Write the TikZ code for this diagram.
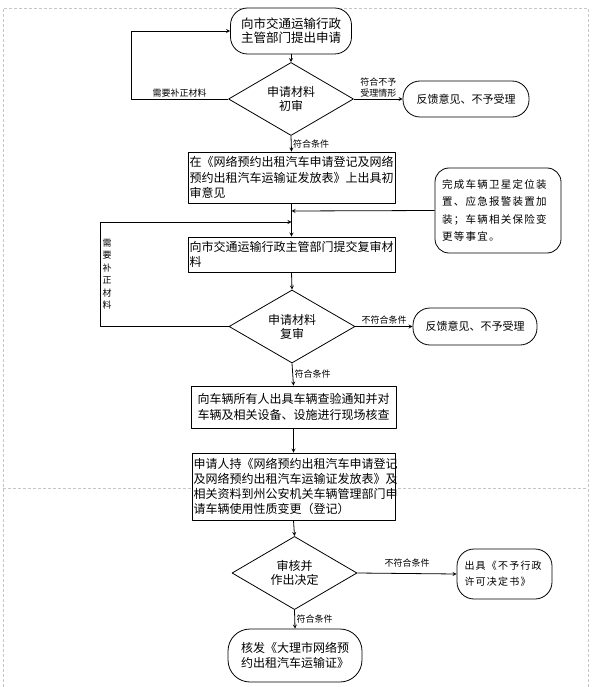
\documentclass[tikz,border=0pt]{standalone}
\usepackage{fontspec}
\setmainfont{Noto Sans CJK SC}
\newfontfamily\notefont[LetterSpace=12]{Noto Sans CJK SC}
\usetikzlibrary{shapes.geometric}

\begin{document}
\begin{tikzpicture}[x=1pt, y=-1pt, line join=round, >=stealth,
  font=\fontsize{12}{15.5}\selectfont,
  box/.style={draw, fill=white, line width=0.8pt, inner sep=1.5pt, align=left},
  term/.style={draw, fill=white, line width=0.8pt, rounded corners=17pt, align=center},
  check/.style={draw, fill=white, diamond, line width=0.8pt, inner sep=0pt, align=center, font=\fontsize{12}{14}\selectfont},
  lbl/.style={font=\fontsize{9}{11}\selectfont, inner sep=1.5pt, align=left},
  flow/.style={->, line width=0.8pt}]
\useasboundingbox (0,0) rectangle (592,687);

% page frame
\draw[gray!45, dash pattern=on 3pt off 2pt] (3,687) -- (3,8) -- (588,8) -- (588,687);
\draw[gray!45, dash pattern=on 3pt off 2pt] (3,488) -- (588,488);

\node[term, minimum width=121pt, minimum height=46pt, font=\fontsize{12.5}{14}\selectfont] (apply) at (291,31) {向市交通运输行政\\主管部门提出申请};
\node[check, minimum width=125pt, minimum height=64pt] (first) at (291,99) {申请材料\\初审};
\node[term, minimum width=126pt, minimum height=36pt, font=\fontsize{11}{13}\selectfont] (reject1) at (466,99) {反馈意见、不予受理};
\node[box, text width=204pt, minimum height=51pt] (opinion) at (291.5,177.5) {在《网络预约出租汽车申请登记及网络\\预约出租汽车运输证发放表》上出具初\\审意见};
\node[term, rounded corners=14pt, minimum width=126pt, minimum height=85pt, text width=112pt, align=left, font=\notefont\fontsize{10.5}{17.5}\selectfont] (note) at (498,210.5) {完成车辆卫星定位装\\置、应急报警装置加\\装；车辆相关保险变\\更等事宜。};
\node[box, text width=204pt, minimum height=35pt] (submit) at (291.5,254.5) {向市交通运输行政主管部门提交复审材\\料};
\node[check, minimum width=126pt, minimum height=65pt] (second) at (292,326.5) {申请材料\\复审};
\node[term, minimum width=124pt, minimum height=37pt, font=\fontsize{11}{13}\selectfont] (reject2) at (475,326.5) {反馈意见、不予受理};
\node[box, text width=202pt, minimum height=42pt, align=center] (inspect) at (293.5,407) {向车辆所有人出具车辆查验通知并对\\车辆及相关设备、设施进行现场核查};
\node[box, text width=200pt, minimum height=67pt, font=\fontsize{12}{15}\selectfont] (register) at (293.5,486.5) {申请人持《网络预约出租汽车申请登记\\及网络预约出租汽车运输证发放表》及\\相关资料到州公安机关车辆管理部门申\\请车辆使用性质变更（登记）};
\node[check, minimum width=125pt, minimum height=69pt] (decide) at (294.5,573) {审核并\\作出决定};
\node[term, minimum width=95pt, minimum height=50pt, text width=80pt, align=left, font=\notefont\fontsize{10}{16}\selectfont] (refuse) at (504.5,574) {出具《不予行政\\许可决定书》};
\node[term, rounded corners=22pt, minimum width=134pt, minimum height=53pt, font=\fontsize{12}{15}\selectfont] (issue) at (295,655.5) {核发《大理市网络预\\约出租汽车运输证》};

\coordinate (fromnote) at (291.5,211);
\coordinate (back) at (291.5,222);

\draw[flow] (apply) -- (first);
\draw[flow] (first.west) -- node[lbl, above] {需要补正材料} ++(-97,0) |- (apply.west);
\draw[flow] (first.east) -- node[lbl, above] {符合不予\\受理情形} (reject1.west);
\draw[flow] (first.south) -- node[lbl, right] {符合条件} (opinion.north);
\draw[flow] (opinion.south) -- (submit.north);
\draw[flow] (note.west) -- (fromnote);
\draw[flow] (submit.south) -- (second.north);
\draw[flow] (second.west) -- ++(-128,0) |- node[pos=0.25, right, lbl, align=center, font=\fontsize{9}{12.5}\selectfont] {需\\要\\补\\正\\材\\料} (back);
\draw[flow] (second.east) -- node[lbl, above] {不符合条件} (reject2.west);
\draw[flow] (second.south) -- node[lbl, right] {符合条件} (inspect.north);
\draw[flow] (inspect.south) -- (register.north);
\draw[flow] (register.south) -- (decide.north);
\draw[flow] (decide.east) -- node[lbl, above, yshift=4pt] {不符合条件} (refuse.west);
\draw[flow] (decide.south) -- node[lbl, right] {符合条件} (issue.north);
\end{tikzpicture}
\end{document}
